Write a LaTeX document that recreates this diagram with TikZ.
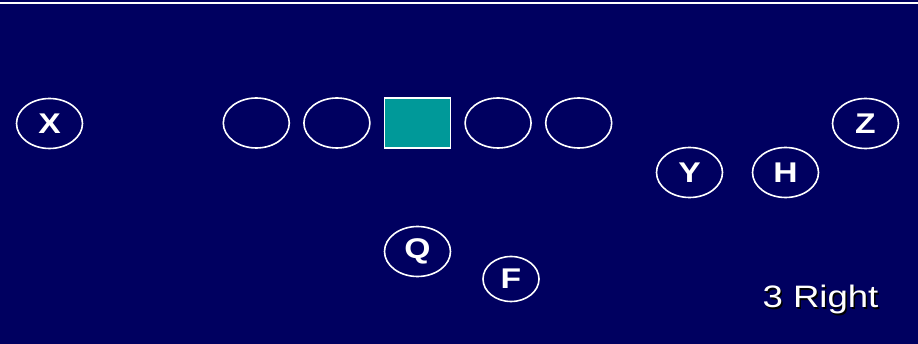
\documentclass[tikz,border=0pt]{standalone}
\usepackage{fontspec}
\setmainfont{Liberation Sans}
\usetikzlibrary{positioning,shapes.geometric}
\definecolor{FieldNavy}{HTML}{000060}
\definecolor{CenterTeal}{HTML}{009999}
\newcommand{\widen}[1]{\scalebox{1.18}[1]{#1}}
\tikzset{
  player/.style={ellipse, draw=white, line width=1.6pt, inner sep=0pt,
    minimum width=66pt, minimum height=50pt, text=white,
    font=\bfseries\fontsize{28.5}{28.5}\selectfont},
  smallplayer/.style={player, minimum width=56pt, minimum height=45pt},
  centerbox/.style={rectangle, draw=white, line width=1.6pt, fill=CenterTeal,
    minimum width=66pt, minimum height=50pt},
  caption/.style={font=\fontsize{31}{31}\selectfont, inner sep=0pt, anchor=base}
}

\begin{document}
\begin{tikzpicture}[x=1pt, y=-1pt, node distance=13pt]
  \useasboundingbox (0,0) rectangle (918,344);
  \fill[FieldNavy] (0,0) rectangle (918,344);
  \draw[white, line width=1.7pt] (0,2.8) -- (918,2.8);
  % line
  \node[centerbox] (center) at (417.5,123) {};
  \node[player, left=of center] (lguard) {};
  \node[player, left=of lguard] (ltackle) {};
  \node[player, right=of center] (rguard) {};
  \node[player, right=of rguard] (rtackle) {};
  % receivers and backs
  \node[player] (x) at (49.5,123.5) {\widen{X}};
  \node[player] (z) at (865.5,123.5) {\widen{Z}};
  \node[player] (y) at (689.5,172.5) {\widen{Y}};
  \node[player] (h) at (785.5,172.5) {\widen{H}};
  \node[player] (q) at (417.5,251.5) {\widen{Q}};
  \node[smallplayer] (f) at (511,279) {\widen{F}};
  % formation name
  \node[caption, text=black] (captionshadow) at (822,309.5) {\widen{3 Right}};
  \node[caption, text=white] (formation) at (820.5,308) {\widen{3 Right}};
\end{tikzpicture}
\end{document}
